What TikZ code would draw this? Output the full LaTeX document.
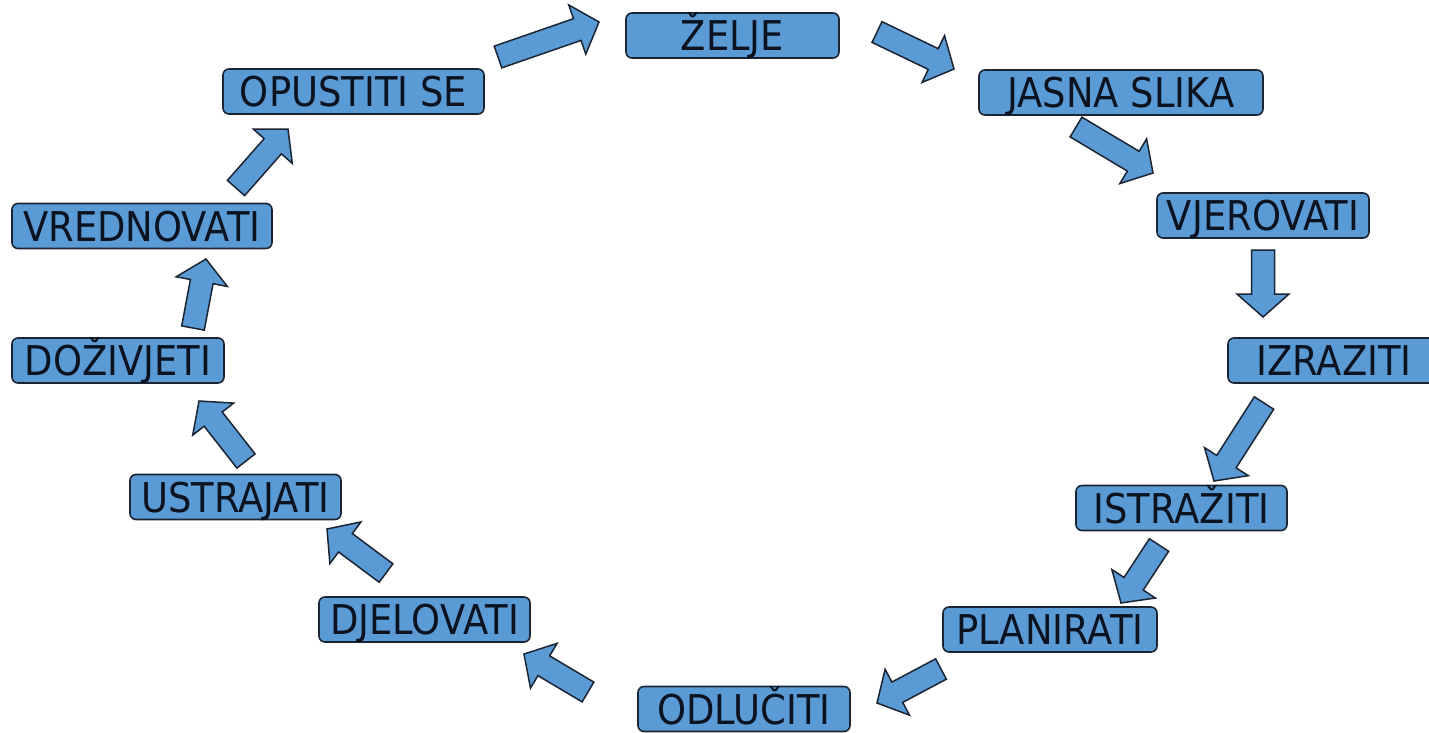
\documentclass[tikz,border=0pt]{standalone}
\usepackage{fontspec}
\setmainfont{DejaVu Sans}
\newfontfamily\boxfont[FakeStretch=0.9]{DejaVu Sans}
\usetikzlibrary{calc}
\definecolor{boxblue}{HTML}{5B9BD5}
\definecolor{edge}{HTML}{1B2433}
\definecolor{ink}{HTML}{0B1220}
\tikzset{
  stage/.style={draw=edge, fill=boxblue, line width=1.6pt, rounded corners=6pt,
    inner sep=0pt, minimum height=45pt, text height=30pt, text depth=0pt, text=ink,
    font=\boxfont\fontsize{41}{44}\selectfont},
  blockarrow/.style={draw=edge, fill=boxblue, line width=1.5pt, line join=miter}
}
\newcommand\blockarr[2]{%
  \coordinate (bn) at ($(#2)!23pt!(#1)$);
  \draw[blockarrow] ($(#1)!11.5pt!90:(#2)$) -- ($(bn)!11.5pt!90:(#2)$) -- ($(bn)!26pt!90:(#2)$) -- (#2)
     -- ($(bn)!26pt!-90:(#2)$) -- ($(bn)!11.5pt!-90:(#2)$) -- ($(#1)!11.5pt!-90:(#2)$) -- cycle;
}
\begin{document}
\begin{tikzpicture}[x=1pt,y=-1pt]
\useasboundingbox (0,0) rectangle (1429,732);
\fill[white] (0,0) rectangle (1429,732);
% boxes
\node[stage, minimum width=213pt] (zelje) at (732.5,35.5) {ŽELJE};
\node[stage, minimum width=284pt] (jasna) at (1121,92.5) {JASNA SLIKA};
\node[stage, minimum width=212pt] (vjer) at (1263,215.5) {VJEROVATI};
\node[stage, minimum width=212pt] (izraz) at (1334,360.5) {IZRAZITI};
\node[stage, minimum width=211pt] (istr) at (1181.5,508) {ISTRAŽITI};
\node[stage, minimum width=214pt] (plan) at (1050,629.5) {PLANIRATI};
\node[stage, minimum width=212pt] (odl) at (744,709) {ODLUČITI};
\node[stage, minimum width=211pt] (djel) at (424.5,619.5) {DJELOVATI};
\node[stage, minimum width=211pt] (ustr) at (235.5,497) {USTRAJATI};
\node[stage, minimum width=212pt] (doz) at (118,360.5) {DOŽIVJETI};
\node[stage, minimum width=260pt] (vred) at (142,226) {VREDNOVATI};
\node[stage, minimum width=261pt] (opu) at (353.5,91.5) {OPUSTITI SE};
% arrow ends
\coordinate (t1) at (498,57);   \coordinate (p1) at (599,22);
\coordinate (t2) at (877,32);   \coordinate (p2) at (954,69);
\coordinate (t3) at (1076,127); \coordinate (p3) at (1153,173);
\coordinate (t4) at (1263,250); \coordinate (p4) at (1263,317);
\coordinate (t5) at (1264,403); \coordinate (p5) at (1214,481);
\coordinate (t6) at (1159,545); \coordinate (p6) at (1121,603);
\coordinate (t7) at (941,669);  \coordinate (p7) at (877,703);
\coordinate (t8) at (588,692);  \coordinate (p8) at (524,654);
\coordinate (t9) at (386,573);  \coordinate (p9) at (327,529);
\coordinate (t10) at (246,461); \coordinate (p10) at (199,401);
\coordinate (t11) at (193,328); \coordinate (p11) at (206,259);
\coordinate (t12) at (236,188); \coordinate (p12) at (288,129);
\foreach \i in {1,...,12}{\blockarr{t\i}{p\i}}
\end{tikzpicture}
\end{document}
